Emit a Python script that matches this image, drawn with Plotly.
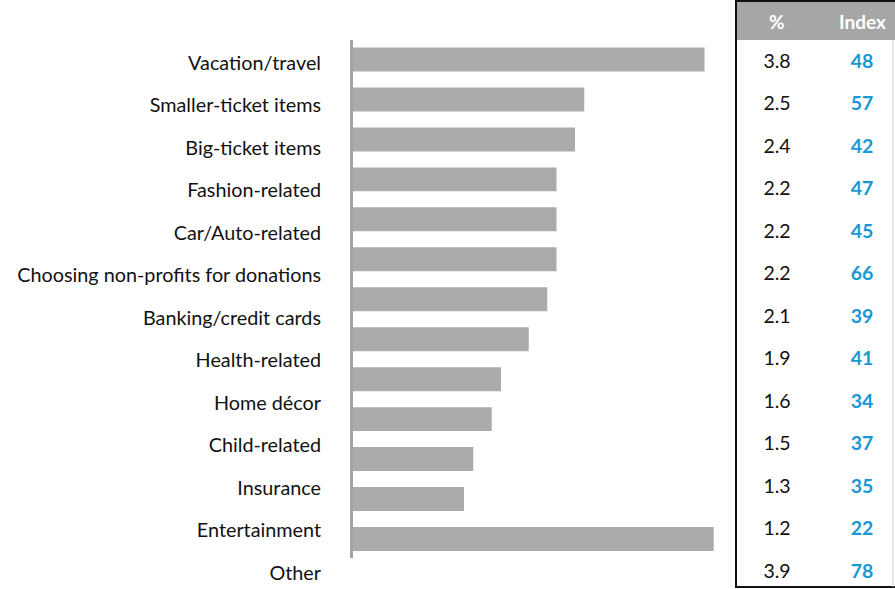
import plotly.graph_objects as go

# Categories, share (%) and index values
categories = [
    "Vacation/travel", "Smaller-ticket items", "Big-ticket items", "Fashion-related",
    "Car/Auto-related", "Choosing non-profits for donations", "Banking/credit cards",
    "Health-related", "Home décor", "Child-related", "Insurance", "Entertainment", "Other",
]
pct_values = [3.8, 2.5, 2.4, 2.2, 2.2, 2.2, 2.1, 1.9, 1.6, 1.5, 1.3, 1.2, 3.9]
index_values = [48, 57, 42, 47, 45, 66, 39, 41, 34, 37, 35, 22, 78]
table_headers = ["%", "Index"]

W, H = 895, 589
positions = list(range(len(categories)))

BAR_COLOR = "#ababab"
AXIS_COLOR = "#a3a3a3"
HEADER_COLOR = "#a6a6a6"
INDEX_COLOR = "#1a98d5"
FONT = "Lato, 'Open Sans', sans-serif"


def px_x(p):
    return p / W


def px_y(p):
    return 1 - p / H


# column centres inside the table axis (0..1 over 736..895 px)
col_pct = (777 - 736) / (W - 736)
col_idx = (862 - 736) / (W - 736)

fig = go.Figure()

# Bars on their own vertical scale
fig.add_trace(go.Bar(
    x=pct_values, y=positions, orientation="h",
    xaxis="x", yaxis="y2",
    marker=dict(color=BAR_COLOR, line=dict(width=0)),
    width=0.6, hoverinfo="skip", showlegend=False,
))

# Table values: % column and Index column
fig.add_trace(go.Scatter(
    x=[col_pct] * len(pct_values), y=positions, xaxis="x3", yaxis="y",
    mode="text", text=[f"{v:.1f}" for v in pct_values],
    textfont=dict(family=FONT, size=19.5, color="#111111"),
    hoverinfo="skip", showlegend=False,
))
fig.add_trace(go.Scatter(
    x=[col_idx] * len(index_values), y=positions, xaxis="x3", yaxis="y",
    mode="text", text=[f"<b>{v}</b>" for v in index_values],
    textfont=dict(family=FONT, size=19.5, color=INDEX_COLOR),
    hoverinfo="skip", showlegend=False,
))

# Category label axis: 42.5 px per row, first row at 63 px from top
row_px = 42.5
lab_top = -63 / row_px
lab_bot = (len(categories) - 1) + (H - 573) / row_px

# Bar axis: 39.96 px per bar, domain spans the drawn axis line (40..558 px)
bar_px = 39.96
bar_dom = [px_y(558), px_y(40)]
bar_top = (40 - 59.5) / bar_px
bar_bot = (len(categories) - 1) + (558 - 539) / bar_px

x_left = 353
x_right = 716
x_max = (x_right - x_left) / 92.5

fig.update_layout(
    width=W, height=H,
    margin=dict(l=0, r=0, t=0, b=0),
    paper_bgcolor="white", plot_bgcolor="rgba(0,0,0,0)",
    font=dict(family=FONT, size=19.8, color="#111111"),
    xaxis=dict(domain=[px_x(x_left), px_x(x_right)], range=[0, x_max],
               visible=False, anchor="y", fixedrange=True),
    yaxis=dict(domain=[0, 1], range=[lab_bot, lab_top], anchor="x",
               tickvals=positions, ticktext=categories,
               showgrid=False, zeroline=False, showline=False, ticks="",
               ticklabelstandoff=31,
               tickfont=dict(family=FONT, size=19.8, color="#111111")),
    yaxis2=dict(domain=bar_dom, range=[bar_bot, bar_top],
                anchor="x", side="left", showticklabels=False, ticks="",
                showgrid=False, zeroline=False,
                showline=True, linecolor=AXIS_COLOR, linewidth=3),
    xaxis3=dict(domain=[px_x(736), 1], range=[0, 1], anchor="y",
                visible=False, fixedrange=True),
    shapes=[
        # header band
        dict(type="rect", xref="paper", yref="paper",
             x0=px_x(737), x1=px_x(900), y0=px_y(40), y1=px_y(2),
             fillcolor=HEADER_COLOR, line=dict(width=0), layer="below"),
        # table border
        dict(type="rect", xref="paper", yref="paper",
             x0=px_x(736), x1=px_x(905), y0=px_y(587), y1=px_y(1),
             fillcolor="rgba(0,0,0,0)", line=dict(color="#111111", width=2)),
        # faint right edge
        dict(type="line", xref="paper", yref="paper",
             x0=px_x(893), x1=px_x(893), y0=px_y(587), y1=px_y(40),
             line=dict(color="#d0d0d0", width=1)),
    ],
    annotations=[
        dict(xref="x3", yref="paper", x=xv, y=px_y(21), yanchor="middle",
             text=f"<b>{t}</b>", showarrow=False,
             font=dict(family=FONT, size=19, color="white"))
        for xv, t in zip([col_pct, col_idx], table_headers)
    ],
)

fig.write_html("out.html")
